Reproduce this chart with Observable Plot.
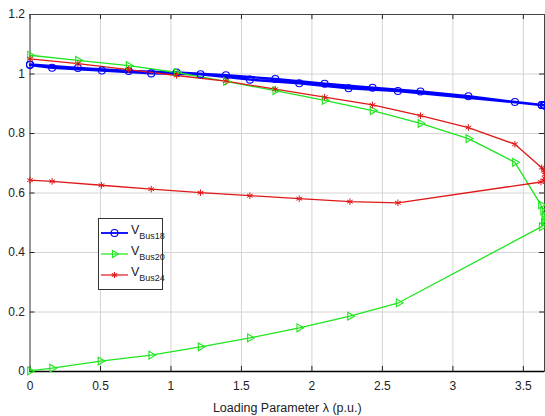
<!DOCTYPE html>
<html>
<head>
<meta charset="utf-8">
<script src="https://cdn.jsdelivr.net/npm/d3@7"></script>
<script src="https://cdn.jsdelivr.net/npm/@observablehq/plot@0.6"></script>
<style>
  html, body { margin: 0; padding: 0; background: #fff; }
  #wrap { position: relative; width: 545px; height: 416px; font-family: "Liberation Sans", Arial, sans-serif; }
  #legend { position: absolute; left: 0; top: 0; }
</style>
</head>
<body>
<div id="wrap"></div>
<script>
// ---- data ----
const seriesNames = ["Bus18", "Bus20", "Bus24"];
const seriesColors = ["#0000ff", "#1ee61e", "#e01818"];

const bus18Lambda = [0, 0.34, 0.70, 1.04, 1.39, 1.74, 2.09, 2.43, 2.77, 3.11, 3.44, 3.63, 3.645, 3.652, 3.652, 3.645, 3.63, 2.61, 2.26, 1.91, 1.56, 1.21, 0.86, 0.51, 0.157, 0];
const bus18V      = [1.032, 1.02, 1.01, 1.005, 0.996, 0.983, 0.967, 0.954, 0.941, 0.925, 0.906, 0.896, 0.895, 0.894, 0.894, 0.895, 0.896, 0.943, 0.952, 0.969, 0.981, 0.999, 1.002, 1.012, 1.021, 1.03];

const bus20Lambda = [0, 0.34, 0.70, 1.04, 1.39, 1.74, 2.09, 2.43, 2.77, 3.11, 3.44, 3.625, 3.64, 3.65, 3.65, 3.645, 3.63, 2.615, 2.27, 1.91, 1.56, 1.21, 0.86, 0.50, 0.157, 0];
const bus20V      = [1.063, 1.046, 1.028, 1.005, 0.975, 0.944, 0.911, 0.877, 0.834, 0.783, 0.703, 0.56, 0.54, 0.525, 0.51, 0.50, 0.487, 0.231, 0.186, 0.147, 0.113, 0.083, 0.055, 0.035, 0.011, 0.002];

const bus24Lambda = [0, 0.34, 0.70, 1.04, 1.39, 1.74, 2.09, 2.43, 2.77, 3.11, 3.44, 3.63, 3.645, 3.652, 3.652, 3.645, 3.625, 2.61, 2.27, 1.91, 1.56, 1.21, 0.86, 0.507, 0.157, 0];
const bus24V      = [1.051, 1.035, 1.015, 0.995, 0.976, 0.949, 0.922, 0.896, 0.86, 0.82, 0.764, 0.685, 0.675, 0.662, 0.65, 0.642, 0.637, 0.567, 0.571, 0.581, 0.591, 0.601, 0.613, 0.626, 0.639, 0.643];

const xTicks = [0, 0.5, 1, 1.5, 2, 2.5, 3, 3.5];
const yTicks = [0, 0.2, 0.4, 0.6, 0.8, 1, 1.2];
const xLabel = "Loading Parameter \u03bb (p.u.)";

// ---- build table ----
const lambdas = [bus18Lambda, bus20Lambda, bus24Lambda];
const volts = [bus18V, bus20V, bus24V];
const rows = [];
seriesNames.forEach((s, i) => {
  lambdas[i].forEach((l, j) => rows.push({series: s, lambda: l, v: volts[i][j]}));
});
const colorOf = Object.fromEntries(seriesNames.map((s, i) => [s, seriesColors[i]]));

const xDom = [0, 3.65], yDom = [0, 1.2];
const fmt = d => String(Math.round(d * 10) / 10);
const font = "Liberation Sans, Arial, sans-serif";

const chart = Plot.plot({
  width: 545,
  height: 416,
  marginTop: 14,
  marginBottom: 45,
  marginLeft: 29.5,
  marginRight: 1,
  style: {fontFamily: font, fontSize: "12px", color: "#222", background: "#fff"},
  x: {domain: xDom, ticks: xTicks},
  y: {domain: yDom, ticks: yTicks},
  marks: [
    Plot.gridX(xTicks, {stroke: "#d4d4d4", strokeOpacity: 1}),
    Plot.gridY(yTicks, {stroke: "#d4d4d4", strokeOpacity: 1}),
    // inward ticks
    Plot.ruleY(yTicks, {x1: 0, x2: 0.035, stroke: "#222"}),
    Plot.ruleY(yTicks, {x1: 3.615, x2: 3.65, stroke: "#222"}),
    Plot.ruleX(xTicks, {y1: 0, y2: 0.017, stroke: "#222"}),
    Plot.ruleX(xTicks, {y1: 1.183, y2: 1.2, stroke: "#222"}),
    Plot.frame({stroke: "#444", strokeWidth: 1}),
    Plot.ruleY([0], {stroke: "#000", strokeWidth: 1.6}),
    Plot.axisX(xTicks, {tickSize: 0, tickPadding: 10, tickFormat: fmt, fontSize: 12, label: null}),
    Plot.axisY(yTicks, {tickSize: 0, tickPadding: 5, tickFormat: fmt, fontSize: 12, label: null}),
    Plot.text([xLabel], {frameAnchor: "bottom", dy: 40, fontSize: 12.5, fill: "#222"}),
    // lines
    Plot.line(rows, {x: "lambda", y: "v", z: "series",
      stroke: d => colorOf[d.series],
      strokeWidth: d => d.series === "Bus18" ? 2.4 : 1.3}),
    // markers
    Plot.dot(rows.filter(d => d.series === "Bus18"), {x: "lambda", y: "v", symbol: "circle", r: 3.5, stroke: colorOf.Bus18, strokeWidth: 1.1, fill: "none"}),
    Plot.dot(rows.filter(d => d.series === "Bus20"), {x: "lambda", y: "v", symbol: "triangle", rotate: 90, r: 2.9, stroke: colorOf.Bus20, strokeWidth: 1.1, fill: "none"}),
    Plot.dot(rows.filter(d => d.series === "Bus24"), {x: "lambda", y: "v", symbol: "asterisk", r: 3.1, stroke: colorOf.Bus24, strokeWidth: 1, fill: "none"})
  ]
});

const wrap = document.getElementById("wrap");
wrap.appendChild(chart);

// ---- legend (overlay) ----
const lg = d3.select(wrap).append("svg").attr("id", "legend")
  .attr("width", 545).attr("height", 416)
  .style("font-family", font);
const box = {x: 98, y: 218, w: 64, h: 71};
lg.append("rect").attr("x", box.x + 0.5).attr("y", box.y + 0.5).attr("width", box.w).attr("height", box.h)
  .attr("fill", "#fff").attr("stroke", "#333").attr("stroke-width", 1);
const symbols = [d3.symbolCircle, d3.symbolTriangle, d3.symbolAsterisk];
const symSize = [38, 22, 26];
const rot = [0, 90, 0];
seriesNames.forEach((s, i) => {
  const cy = box.y + 15 + i * 21;
  const g = lg.append("g");
  g.append("line").attr("x1", box.x + 3).attr("x2", box.x + 30).attr("y1", cy).attr("y2", cy)
    .attr("stroke", seriesColors[i]).attr("stroke-width", i === 0 ? 1.8 : 1.2);
  g.append("path").attr("d", d3.symbol(symbols[i], symSize[i])())
    .attr("transform", `translate(${box.x + 16.5},${cy}) rotate(${rot[i]})`)
    .attr("fill", "none").attr("stroke", seriesColors[i]).attr("stroke-width", 1.1);
  const t = g.append("text").attr("x", box.x + 33).attr("y", cy + 1).attr("fill", "#222");
  t.append("tspan").attr("font-size", 12.5).text("V");
  t.append("tspan").attr("font-size", 9).attr("dy", 5).text("Bus" + s.slice(3));
});
</script>
</body>
</html>
